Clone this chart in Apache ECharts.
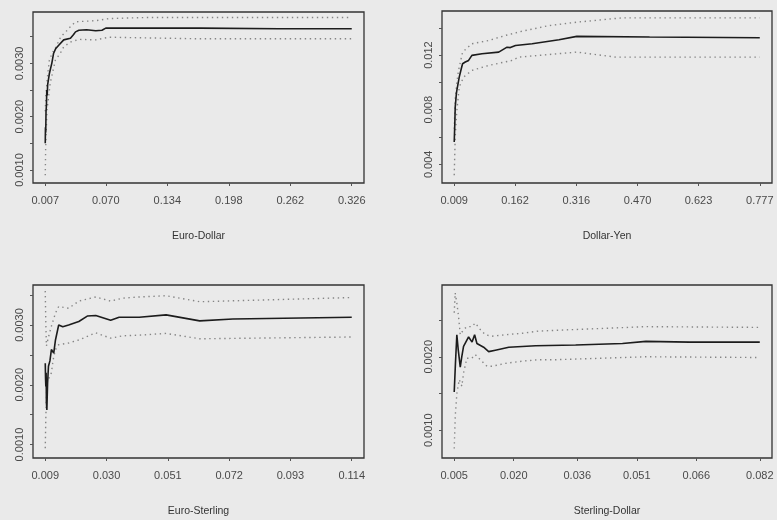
<!DOCTYPE html>
<html>
<head>
<meta charset="utf-8">
<script src="https://cdn.jsdelivr.net/npm/echarts@6/dist/echarts.min.js"></script>
<style>
  html, body { margin: 0; padding: 0; background: #eaeaea; }
  #chart { width: 777px; height: 520px; }
</style>
</head>
<body>
<div id="chart"></div>
<script>
// panel titles
var titles = ['Euro-Dollar', 'Dollar-Yen', 'Euro-Sterling', 'Sterling-Dollar'];

// Euro-Dollar: estimate and dotted bands, [x, y]
var edEst = [[0.007,0.0015],[0.0072,0.0018],[0.0075,0.0017],[0.0078,0.0021],[0.0082,0.0022],[0.0086,0.0025],[0.009,0.0024],[0.0095,0.0026],[0.0103,0.0026],[0.0112,0.0028],[0.0122,0.00288],[0.0138,0.0030],[0.0157,0.00319],[0.018,0.00328],[0.021,0.00334],[0.0262,0.00344],[0.0332,0.00347],[0.0365,0.00354],[0.0385,0.00359],[0.042,0.00362],[0.05,0.00363],[0.0595,0.00361],[0.066,0.00362],[0.070,0.00366],[0.0944,0.00366],[0.168,0.00366],[0.25,0.00365],[0.326,0.00365]];
var edUp = [[0.007,0.0021],[0.0076,0.0024],[0.009,0.0027],[0.0113,0.00306],[0.0145,0.0032],[0.0182,0.00331],[0.0232,0.0035],[0.0298,0.00362],[0.0332,0.00369],[0.0385,0.00378],[0.0595,0.0038],[0.0734,0.00384],[0.112,0.00386],[0.2,0.00386],[0.326,0.00386]];
var edLo = [[0.007,0.0009],[0.0074,0.0014],[0.0088,0.00212],[0.0122,0.00263],[0.0175,0.00306],[0.0227,0.00319],[0.0262,0.00331],[0.0332,0.0034],[0.042,0.00345],[0.0595,0.00344],[0.0734,0.00349],[0.168,0.00346],[0.326,0.00346]];

// Dollar-Yen
var dyEst = [[0.009,0.00563],[0.0105,0.0070],[0.0115,0.00819],[0.013,0.0082],[0.0145,0.0092],[0.0156,0.00941],[0.018,0.0098],[0.0216,0.01039],[0.0267,0.0110],[0.030,0.01137],[0.0368,0.01149],[0.0451,0.01161],[0.0534,0.01198],[0.0787,0.0121],[0.1208,0.01222],[0.1418,0.01258],[0.15,0.01255],[0.163,0.0127],[0.2049,0.01283],[0.2723,0.01312],[0.317,0.01337],[0.5,0.01332],[0.777,0.01327]];
var dyUp = [[0.009,0.0066],[0.0115,0.0088],[0.0156,0.0100],[0.0199,0.01088],[0.030,0.01222],[0.0534,0.01283],[0.0956,0.01307],[0.1377,0.01344],[0.1796,0.01375],[0.247,0.01416],[0.317,0.01441],[0.4313,0.01473],[0.777,0.01473]];
var dyLo = [[0.009,0.0032],[0.0115,0.006],[0.0156,0.00795],[0.0216,0.00966],[0.0325,0.01039],[0.0534,0.01088],[0.0956,0.01124],[0.1544,0.01161],[0.1713,0.01185],[0.317,0.01222],[0.4154,0.01185],[0.777,0.01185]];

// Euro-Sterling
var esEst = [[0.009,0.00236],[0.0091,0.0021],[0.0092,0.00197],[0.0093,0.0022],[0.0094,0.0017],[0.00955,0.00158],[0.0098,0.00203],[0.0101,0.00231],[0.0106,0.0024],[0.0111,0.00259],[0.0119,0.00253],[0.0125,0.00275],[0.0136,0.0030],[0.015,0.00297],[0.017,0.0030],[0.0205,0.00306],[0.0234,0.00315],[0.0263,0.00316],[0.0314,0.00308],[0.0343,0.00313],[0.0412,0.00313],[0.0504,0.00317],[0.0619,0.00307],[0.0733,0.0031],[0.114,0.00313]];
var esUp = [[0.009,0.00357],[0.0092,0.00303],[0.0094,0.00265],[0.0101,0.0028],[0.0111,0.00298],[0.0125,0.0032],[0.0136,0.00331],[0.017,0.00328],[0.0205,0.0034],[0.0263,0.00347],[0.0314,0.0034],[0.0355,0.00345],[0.0412,0.00347],[0.0504,0.00349],[0.0619,0.00339],[0.114,0.00346]];
var esLo = [[0.009,0.00094],[0.0092,0.00147],[0.00955,0.00203],[0.0111,0.0022],[0.0117,0.00242],[0.0125,0.00259],[0.0136,0.00267],[0.017,0.0027],[0.0205,0.00275],[0.0263,0.00287],[0.0314,0.00278],[0.0355,0.00282],[0.0412,0.00283],[0.0504,0.00286],[0.0619,0.00277],[0.114,0.0028]];

// Sterling-Dollar
var sdEst = [[0.005,0.00152],[0.0053,0.0019],[0.00566,0.0023],[0.006,0.0021],[0.00652,0.00186],[0.0069,0.0020],[0.00735,0.00214],[0.00862,0.00227],[0.0095,0.0022],[0.01014,0.0023],[0.01072,0.00218],[0.01241,0.00213],[0.01368,0.00207],[0.01537,0.00209],[0.01874,0.00213],[0.0255,0.00215],[0.0356,0.00216],[0.0474,0.00218],[0.0533,0.00221],[0.0643,0.0022],[0.082,0.0022]];
var sdUp = [[0.005,0.0026],[0.00525,0.00287],[0.00566,0.00273],[0.00609,0.00255],[0.00652,0.0023],[0.00735,0.00237],[0.00819,0.00241],[0.00945,0.00241],[0.01031,0.00246],[0.01158,0.00237],[0.01284,0.0023],[0.01451,0.00228],[0.0179,0.0023],[0.0221,0.00232],[0.0263,0.00235],[0.0306,0.00236],[0.0533,0.00241],[0.082,0.0024]];
var sdLo = [[0.005,0.00075],[0.00525,0.00119],[0.00566,0.0015],[0.00627,0.00169],[0.00692,0.0016],[0.00735,0.00178],[0.00819,0.00198],[0.00945,0.00198],[0.01031,0.00203],[0.01158,0.00196],[0.01325,0.00187],[0.01451,0.00187],[0.0179,0.00191],[0.0221,0.00194],[0.0263,0.00196],[0.0306,0.00196],[0.0533,0.002],[0.082,0.00199]];

// ticks and labels
var edXTicks = [0.007, 0.070, 0.134, 0.198, 0.262, 0.326];
var dyXTicks = [0.009, 0.162, 0.316, 0.470, 0.623, 0.777];
var esXTicks = [0.009, 0.030, 0.051, 0.072, 0.093, 0.114];
var sdXTicks = [0.005, 0.020, 0.036, 0.051, 0.066, 0.082];
var edYTicks = [0.0010, 0.0015, 0.0020, 0.0025, 0.0030, 0.0035];
var edYLabels = [0.0010, 0.0020, 0.0030];
var dyYTicks = [0.004, 0.006, 0.008, 0.010, 0.012, 0.014];
var dyYLabels = [0.004, 0.008, 0.012];
var esYTicks = [0.0010, 0.0015, 0.0020, 0.0025, 0.0030, 0.0035];
var esYLabels = [0.0010, 0.0020, 0.0030];
var sdYTicks = [0.0010, 0.0015, 0.0020, 0.0025];
var sdYLabels = [0.0010, 0.0020];

var panels = [
  { est: edEst, up: edUp, lo: edLo, xt: edXTicks, yt: edYTicks, yl: edYLabels, yd: 4,
    xr: [-0.00576, 0.33876], yr: [0.000756, 0.003963], box: [33, 12, 331, 171] },
  { est: dyEst, up: dyUp, lo: dyLo, xt: dyXTicks, yt: dyYTicks, yl: dyYLabels, yd: 3,
    xr: [-0.02172, 0.80772], yr: [0.00263, 0.01523], box: [442, 11, 330, 172] },
  { est: esEst, up: esUp, lo: esLo, xt: esXTicks, yt: esYTicks, yl: esYLabels, yd: 4,
    xr: [0.0048, 0.1182], yr: [0.000775, 0.00367], box: [33, 285, 331, 173] },
  { est: sdEst, up: sdUp, lo: sdLo, xt: sdXTicks, yt: sdYTicks, yl: sdYLabels, yd: 4,
    xr: [0.00192, 0.08508], yr: [0.000622, 0.002977], box: [442, 285, 330, 173] }
];

var labelFont = { color: '#4a4a4a', fontSize: 11, fontFamily: 'Liberation Sans' };
var grids = [], xAxes = [], yAxes = [], series = [];

panels.forEach(function (p, i) {
  grids.push({
    left: p.box[0], top: p.box[1], width: p.box[2], height: p.box[3],
    show: true, borderColor: '#333', borderWidth: 1.3, backgroundColor: 'transparent'
  });
  xAxes.push({
    gridIndex: i, type: 'value', min: p.xr[0], max: p.xr[1],
    name: titles[i], nameLocation: 'middle', nameGap: 48,
    nameTextStyle: { color: '#333', fontSize: 10.5, fontFamily: 'Liberation Sans' },
    axisLine: { show: false, onZero: false },
    axisTick: { show: true, inside: false, length: 3, customValues: p.xt, lineStyle: { color: '#555' } },
    axisLabel: Object.assign({ margin: 12, customValues: p.xt,
      formatter: function (v) { return v.toFixed(3); } }, labelFont),
    splitLine: { show: false }
  });
  yAxes.push({
    gridIndex: i, type: 'value', min: p.yr[0], max: p.yr[1],
    axisLine: { show: false, onZero: false },
    axisTick: { show: true, inside: false, length: 3, customValues: p.yt, lineStyle: { color: '#555' } },
    axisLabel: Object.assign({ margin: 8, rotate: 90, customValues: p.yl,
      formatter: function (v) { return v.toFixed(p.yd); } }, labelFont),
    splitLine: { show: false }
  });
  [['lo', p.lo], ['up', p.up]].forEach(function (b) {
    series.push({
      type: 'line', xAxisIndex: i, yAxisIndex: i, data: b[1], showSymbol: false,
      silent: true, lineStyle: { color: '#858585', width: 1.4, type: [1.4, 3.6] }
    });
  });
  series.push({
    type: 'line', xAxisIndex: i, yAxisIndex: i, data: p.est, showSymbol: false,
    silent: true, lineStyle: { color: '#1c1c1c', width: 1.6 }
  });
});

var myChart = echarts.init(document.getElementById('chart'));
myChart.setOption({
  backgroundColor: '#eaeaea',
  animation: false,
  grid: grids,
  xAxis: xAxes,
  yAxis: yAxes,
  series: series
});
</script>
</body>
</html>
